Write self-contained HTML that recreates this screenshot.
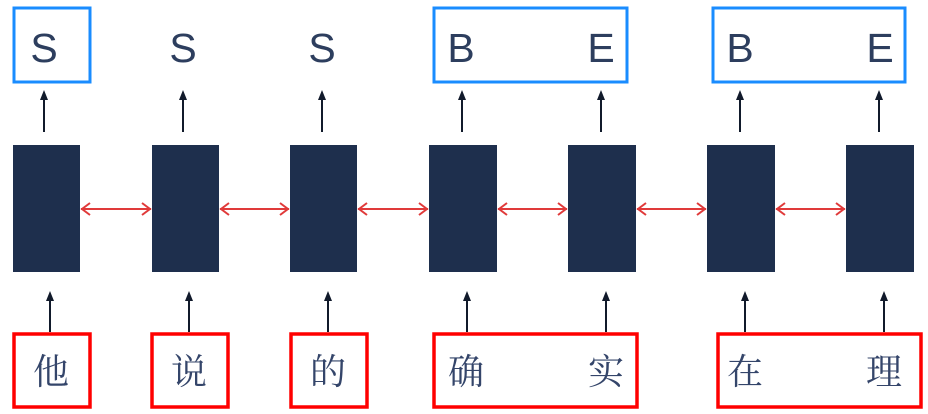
<!DOCTYPE html>
<html><head><meta charset="utf-8"><style>
html,body{margin:0;padding:0;background:#fff;width:928px;height:414px;overflow:hidden}
</style></head><body>
<svg width="928" height="414" xmlns="http://www.w3.org/2000/svg">
<g fill="none" stroke="#1a8cff" stroke-width="3">
<rect x="14" y="8" width="76" height="74"/>
<rect x="434" y="8" width="193" height="74"/>
<rect x="713" y="8" width="192" height="74"/>
</g>
<g fill="none" stroke="#ff0000" stroke-width="3.5">
<rect x="14" y="334" width="76" height="73"/>
<rect x="152" y="334" width="76" height="73"/>
<rect x="291" y="334" width="76" height="73"/>
<rect x="434" y="334" width="203" height="73"/>
<rect x="718" y="334" width="203" height="73"/>
</g>
<g fill="#1e2f4d">
<rect x="13" y="145" width="67" height="127"/>
<rect x="152" y="145" width="67" height="127"/>
<rect x="290" y="145" width="67" height="127"/>
<rect x="429" y="145" width="68" height="127"/>
<rect x="568" y="145" width="68" height="127"/>
<rect x="707" y="145" width="68" height="127"/>
<rect x="846" y="145" width="68" height="127"/>
</g>
<g stroke="#111a2b" stroke-width="2">
<line x1="44" y1="132" x2="44" y2="98"/>
<line x1="183" y1="132" x2="183" y2="98"/>
<line x1="322" y1="132" x2="322" y2="98"/>
<line x1="462" y1="132" x2="462" y2="98"/>
<line x1="601" y1="132" x2="601" y2="98"/>
<line x1="740" y1="132" x2="740" y2="98"/>
<line x1="879" y1="132" x2="879" y2="98"/>
<line x1="50" y1="332" x2="50" y2="299"/>
<line x1="189" y1="332" x2="189" y2="299"/>
<line x1="328" y1="332" x2="328" y2="299"/>
<line x1="467" y1="332" x2="467" y2="299"/>
<line x1="606" y1="332" x2="606" y2="299"/>
<line x1="745" y1="332" x2="745" y2="299"/>
<line x1="884" y1="332" x2="884" y2="299"/>
</g>
<g fill="#111a2b">
<path d="M44,90 L48,100 L40,100Z"/>
<path d="M183,90 L187,100 L179,100Z"/>
<path d="M322,90 L326,100 L318,100Z"/>
<path d="M462,90 L466,100 L458,100Z"/>
<path d="M601,90 L605,100 L597,100Z"/>
<path d="M740,90 L744,100 L736,100Z"/>
<path d="M879,90 L883,100 L875,100Z"/>
<path d="M50,291 L54,301 L46,301Z"/>
<path d="M189,291 L193,301 L185,301Z"/>
<path d="M328,291 L332,301 L324,301Z"/>
<path d="M467,291 L471,301 L463,301Z"/>
<path d="M606,291 L610,301 L602,301Z"/>
<path d="M745,291 L749,301 L741,301Z"/>
<path d="M884,291 L888,301 L880,301Z"/>
</g>
<g stroke="#e03a3a" stroke-width="2" fill="none">
<line x1="81" y1="209" x2="151" y2="209"/>
<line x1="220" y1="209" x2="289" y2="209"/>
<line x1="358" y1="209" x2="428" y2="209"/>
<line x1="498" y1="209" x2="567" y2="209"/>
<line x1="637" y1="209" x2="706" y2="209"/>
<line x1="776" y1="209" x2="845" y2="209"/>
<path d="M90,203 L82,209 L90,215 M142,203 L150,209 L142,215"/>
<path d="M229,203 L221,209 L229,215 M280,203 L288,209 L280,215"/>
<path d="M367,203 L359,209 L367,215 M419,203 L427,209 L419,215"/>
<path d="M507,203 L499,209 L507,215 M558,203 L566,209 L558,215"/>
<path d="M646,203 L638,209 L646,215 M697,203 L705,209 L697,215"/>
<path d="M785,203 L777,209 L785,215 M836,203 L844,209 L836,215"/>
</g>
<g font-family="Liberation Sans, sans-serif" font-size="41" fill="#2d3e5e" text-anchor="middle">
<text x="44" y="62">S</text><text x="183" y="62">S</text><text x="322" y="62">S</text>
<text x="461" y="62">B</text><text x="601" y="62">E</text>
<text x="740" y="62">B</text><text x="880" y="62">E</text>
</g>
<g font-family="Noto Serif CJK SC, Noto Sans CJK SC, serif" font-size="36" fill="#34456a" text-anchor="middle">
<text x="51" y="384">他</text><text x="189" y="384">说</text><text x="328" y="384">的</text>
<text x="466" y="384">确</text><text x="606" y="384">实</text>
<text x="745" y="384">在</text><text x="884" y="384">理</text>
</g>
</svg>
</body></html>
